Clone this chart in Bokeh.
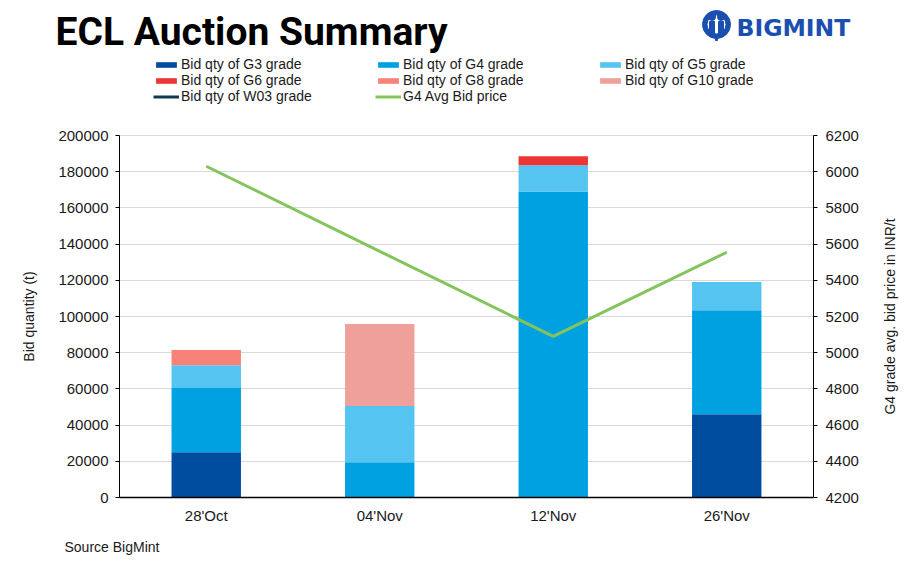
from bokeh.plotting import figure
from bokeh.models import (ColumnDataSource, Range1d, LinearAxis, Legend, LegendItem,
                          Label, BasicTickFormatter, SingleIntervalTicker, FixedTicker, Grid)
from bokeh.embed import file_html
from bokeh.resources import INLINE
import math

# ---- data ----
categories = ["28'Oct", "04'Nov", "12'Nov", "26'Nov"]
g3 = [25000, 0, 0, 46000]
g4 = [35500, 19500, 169000, 57500]
g5 = [12500, 31000, 14500, 15500]
g6 = [0, 0, 5000, 0]
g8 = [8500, 0, 0, 0]
g10 = [0, 45300, 0, 0]
w03 = [float("nan")] * 4
g4_price = [6030, 5560, 5090, 5555]

qty_range = (0, 200000)
price_range = (4200, 6200)

series_names = ["G3", "G4", "G5", "G6", "G8", "G10"]
series_labels = ["Bid qty of G3 grade", "Bid qty of G4 grade", "Bid qty of G5 grade",
                 "Bid qty of G6 grade", "Bid qty of G8 grade", "Bid qty of G10 grade"]
series_colors = ["#004C9E", "#00A1E0", "#55C4F1", "#EE3535", "#F7827A", "#F0A09A"]
w03_color = "#0E3A52"
line_color = "#84C45C"
logo_color = "#1A4FB0"

FONT = "Liberation Sans"
TXT = "#1a1a1a"
TICK_FS = "15px"
TEXT_FS = "14px"

# ---- layout geometry (canvas pixels) ----
W, H = 910, 560
FL, FT, FR, FB = 119, 135, 813, 497      # plot area
n = len(categories)
xpos = [i + 0.5 for i in range(n)]

def extend(lo, hi, pix_lo, pix_hi, pix_total_lo, pix_total_hi):
    per = (hi - lo) / (pix_hi - pix_lo)
    return lo - (pix_lo - pix_total_lo) * per, hi + (pix_total_hi - pix_hi) * per

x0, x1 = extend(0, n, FL, FR, 0, W)
y0, y1 = extend(qty_range[0], qty_range[1], H - FB, H - FT, 0, H)
py0, py1 = extend(price_range[0], price_range[1], H - FB, H - FT, 0, H)

src = ColumnDataSource(dict(x=xpos, G3=g3, G4=g4, G5=g5, G6=g6, G8=g8, G10=g10,
                            W03=w03, price=g4_price))

p = figure(width=W, height=H, x_range=Range1d(x0, x1), y_range=Range1d(y0, y1),
           output_backend="svg", toolbar_location=None,
           min_border=0, min_border_left=0, min_border_right=0,
           min_border_top=0, min_border_bottom=0, x_axis_type=None, y_axis_type=None)
p.outline_line_color = None
p.grid.visible = False
p.extra_y_ranges = {"price": Range1d(py0, py1), "py": Range1d(H, 0)}
p.extra_x_ranges = {"px": Range1d(0, W)}

# gridlines
ygrid = Grid(dimension=1, ticker=SingleIntervalTicker(interval=20000), bounds=qty_range,
             grid_line_color="#D9D9D9", grid_line_width=1)
if "cross_bounds" in Grid.properties():
    ygrid.cross_bounds = (0, n)
    p.add_layout(ygrid)
else:
    gvals = list(range(qty_range[0] + 20000, qty_range[1] + 1, 20000))
    p.segment(x0=[0] * len(gvals), x1=[n] * len(gvals), y0=gvals, y1=gvals,
              line_color="#D9D9D9", line_width=1)

bars = p.vbar_stack(series_names, x="x", width=0.4, source=src,
                    color=series_colors, line_color=None)
w03_r = p.line(x="x", y="W03", source=src, line_color=w03_color, line_width=3)
price_r = p.line(x="x", y="price", source=src, y_range_name="price",
                 line_color=line_color, line_width=3)

# axes (fixed inside the full-canvas frame)
la = LinearAxis(ticker=SingleIntervalTicker(interval=20000), fixed_location=0,
                bounds=qty_range, formatter=BasicTickFormatter(use_scientific=False))
ra = LinearAxis(y_range_name="price", ticker=SingleIntervalTicker(interval=200),
                fixed_location=n, bounds=price_range)
for ax in (la, ra):
    ax.axis_line_color = "black"
    ax.axis_line_width = 1
    ax.major_tick_line_color = "black"
    ax.major_tick_in = 0
    ax.major_tick_out = 4
    ax.minor_tick_line_color = None
    ax.major_label_text_font = FONT
    ax.major_label_text_font_size = TICK_FS
    ax.major_label_text_color = TXT
la.major_label_standoff = 7
ra.major_label_standoff = 8
p.add_layout(la, "left")
p.add_layout(ra, "right")

xa = LinearAxis(ticker=FixedTicker(ticks=xpos), fixed_location=0, bounds=(0, n),
                major_label_overrides={x: c for x, c in zip(xpos, categories)})
xa.axis_line_color = "black"
xa.axis_line_width = 1.5
xa.major_tick_line_color = None
xa.minor_tick_line_color = None
xa.major_label_standoff = 3
xa.major_label_text_font = FONT
xa.major_label_text_font_size = TICK_FS
xa.major_label_text_color = TXT
p.add_layout(xa, "below")

# legend
items = [LegendItem(label=lab, renderers=[r]) for lab, r in zip(series_labels, bars)]
items.append(LegendItem(label="Bid qty of W03 grade", renderers=[w03_r]))
items.append(LegendItem(label="G4 Avg Bid price", renderers=[price_r]))
legend = Legend(items=items, orientation="horizontal", ncols=3,
                location=(153, H - 104), padding=0, margin=0, spacing=0,
                glyph_width=26, glyph_height=7, label_standoff=2, label_width=194,
                label_height=15, border_line_color=None, background_fill_alpha=0,
                label_text_font=FONT, label_text_font_size=TEXT_FS,
                label_text_color=TXT, click_policy="none")
p.add_layout(legend, "center")

def lab(px, py, text, **kw):
    p.add_layout(Label(x=px, y=H - py, x_units="screen", y_units="screen", text=text, **kw))

lab(55, 31, "ECL Auction Summary", text_font="Roboto", text_font_style="bold",
    text_font_size="39px", text_color="black", text_baseline="middle")
lab(736, 27, "BIGMINT", text_font="DejaVu Sans", text_font_style="bold",
    text_font_size="23.5px", text_color=logo_color, text_baseline="middle")
lab(64, 546, "Source BigMint", text_font=FONT, text_font_size=TEXT_FS,
    text_color=TXT, text_baseline="middle")
lab(28, (FT + FB) / 2, "Bid quantity (t)", angle=math.pi / 2, text_font=FONT,
    text_font_size=TEXT_FS, text_color=TXT, text_align="center", text_baseline="middle")
lab(889, (FT + FB) / 2, "G4 grade avg. bid price in INR/t", angle=math.pi / 2,
    text_font=FONT, text_font_size=TEXT_FS, text_color=TXT, text_align="center",
    text_baseline="middle")

# simple logo mark (pixel coordinates)
kw = dict(x_range_name="px", y_range_name="py", color=logo_color)
p.annulus(x=[716], y=[24], inner_radius=9.5, outer_radius=14,
          inner_radius_units="screen", outer_radius_units="screen", **kw)
p.ellipse(x=[711.5, 720.5], y=[16.5, 16.5], width=7, height=7,
          width_units="screen", height_units="screen", **kw)
p.rect(x=[711.5, 720.5], y=[27, 27], width=5, height=12,
       width_units="screen", height_units="screen", **kw)
p.rect(x=[716], y=[37], width=2, height=6, width_units="screen", height_units="screen", **kw)

open("out.html", "w").write(file_html(p, INLINE))
